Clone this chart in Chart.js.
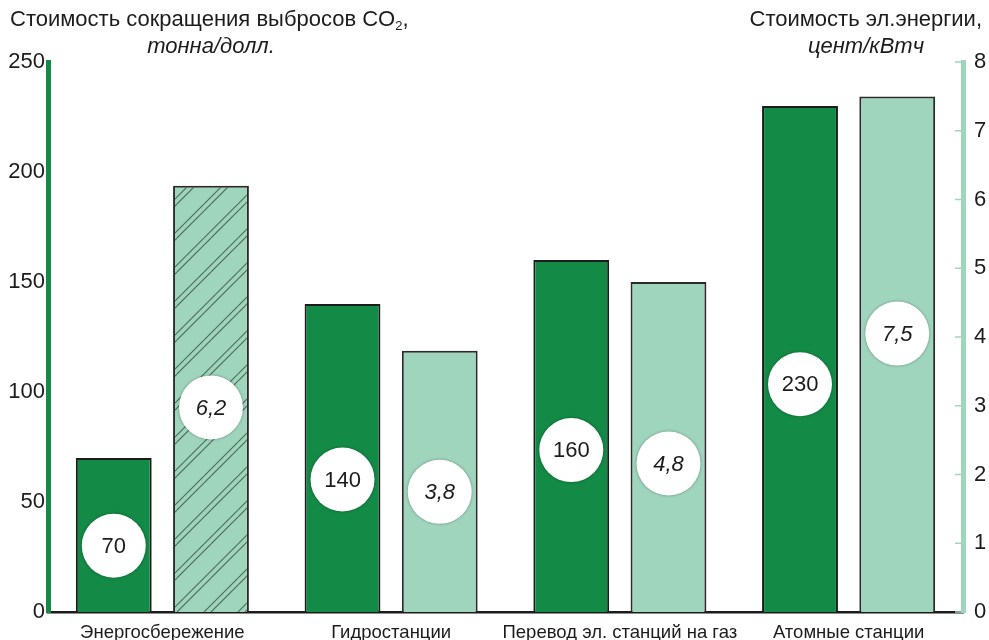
<!DOCTYPE html>
<html>
<head>
<meta charset="utf-8">
<script src="https://cdn.jsdelivr.net/npm/chart.js@4/dist/chart.umd.min.js"></script>
<style>
  html, body { margin: 0; padding: 0; background: #ffffff; }
  #wrap { width: 989px; height: 640px; }
</style>
</head>
<body>
<div id="wrap"><canvas id="c" width="989" height="640"></canvas></div>
<script>
// Options for cutting CO2 emissions
const categories = ['Энергосбережение', 'Гидростанции', 'Перевод эл. станций на газ', 'Атомные станции'];
// Cost of cutting emissions, left axis
const co2Cost = [70, 140, 160, 230];
// Electricity cost, right axis
const powerCost = [6.2, 3.8, 4.8, 7.5];
// Badge labels as printed
const co2Labels = ['70', '140', '160', '230'];
const powerLabels = ['6,2', '3,8', '4,8', '7,5'];

const FONT = '"Liberation Sans", Arial, sans-serif';
const DARK = '#138a46';
const LIGHT = '#9fd5bd';
const INK = '#1c1c1c';

// Diagonal double-line hatch for the first light bar
function makeHatch() {
  const s = 34;
  const c = document.createElement('canvas');
  c.width = s; c.height = s;
  const g = c.getContext('2d');
  g.fillStyle = LIGHT;
  g.fillRect(0, 0, s, s);
  g.strokeStyle = 'rgba(45,70,55,0.75)';
  g.lineWidth = 1.1;
  for (let k = -1; k <= 1; k++) {
    for (const d of [0, 7]) {
      g.beginPath();
      g.moveTo(k * s + d, s);
      g.lineTo(k * s + d + s, 0);
      g.stroke();
    }
  }
  return document.getElementById('c').getContext('2d').createPattern(c, 'repeat');
}
const hatch = makeHatch();

// Where each badge sits, as a share of its bar's height
const badgeLevel = [[0.43, 0.43, 0.46, 0.45], [0.48, 0.46, 0.45, 0.54]];

const decorPlugin = {
  id: 'decor',
  afterDatasetsDraw(chart) {
    const ctx = chart.ctx;
    ctx.save();
    // badges
    chart.data.datasets.forEach((ds, di) => {
      const meta = chart.getDatasetMeta(di);
      const labels = di === 0 ? co2Labels : powerLabels;
      meta.data.forEach((bar, i) => {
        const y = bar.base + (bar.y - bar.base) * badgeLevel[di][i];
        ctx.save();
        ctx.shadowColor = 'rgba(0,0,0,0.35)';
        ctx.shadowBlur = 3;
        ctx.beginPath();
        ctx.arc(bar.x, y, 32, 0, Math.PI * 2);
        ctx.fillStyle = '#ffffff';
        ctx.fill();
        ctx.restore();
        ctx.fillStyle = INK;
        ctx.font = (di === 1 ? 'italic ' : '') + '22px ' + FONT;
        ctx.textAlign = 'center';
        ctx.textBaseline = 'middle';
        ctx.fillText(labels[i], bar.x, y + 1);
      });
    });
    // small inward ticks on the right axis
    const r = chart.scales.yR;
    ctx.strokeStyle = LIGHT;
    ctx.lineWidth = 1.5;
    r.ticks.forEach(t => {
      const py = r.getPixelForValue(t.value);
      ctx.beginPath();
      ctx.moveTo(r.left - 8, py);
      ctx.lineTo(r.left, py);
      ctx.stroke();
    });
    ctx.restore();
  },
  afterDraw(chart) {
    const ctx = chart.ctx;
    ctx.save();
    ctx.fillStyle = INK;
    ctx.textBaseline = 'alphabetic';
    // left title
    ctx.font = '22px ' + FONT;
    ctx.textAlign = 'left';
    const t1 = 'Стоимость сокращения выбросов CO';
    ctx.fillText(t1, 10, 26);
    let x = 10 + ctx.measureText(t1).width;
    ctx.font = '13px ' + FONT;
    ctx.fillText('2', x, 30);
    x += ctx.measureText('2').width;
    ctx.font = '22px ' + FONT;
    ctx.fillText(',', x, 26);
    ctx.font = 'italic 22px ' + FONT;
    ctx.textAlign = 'center';
    ctx.fillText('тонна/долл.', 211, 53);
    // right title
    ctx.font = '22px ' + FONT;
    ctx.textAlign = 'right';
    ctx.fillText('Стоимость эл.энергии,', 982, 26);
    ctx.font = 'italic 22px ' + FONT;
    ctx.textAlign = 'center';
    ctx.fillText('цент/кВтч', 866, 53);
    ctx.restore();
  }
};

new Chart(document.getElementById('c'), {
  type: 'bar',
  data: {
    labels: categories,
    datasets: [
      {
        data: co2Cost,
        yAxisID: 'yL',
        backgroundColor: DARK,
        borderColor: INK,
        borderWidth: 2,
        borderSkipped: 'bottom',
        categoryPercentage: 0.85,
        barPercentage: 0.78
      },
      {
        data: powerCost,
        yAxisID: 'yR',
        backgroundColor: [hatch, LIGHT, LIGHT, LIGHT],
        borderColor: '#2a2a2a',
        borderWidth: 2,
        borderSkipped: 'bottom',
        categoryPercentage: 0.85,
        barPercentage: 0.78
      }
    ]
  },
  options: {
    responsive: false,
    animation: false,
    devicePixelRatio: 1,
    layout: { padding: { top: 62, left: 0, right: 0, bottom: 0 } },
    plugins: { legend: { display: false }, tooltip: { enabled: false } },
    scales: {
      x: {
        grid: { display: false, drawTicks: false },
        border: { display: true, color: INK, width: 2.5 },
        ticks: { color: INK, font: { family: FONT, size: 18.5 }, padding: 10, maxRotation: 0, autoSkip: false },
        afterFit(s) { s.height = 28; }
      },
      yL: {
        position: 'left',
        min: 0, max: 250,
        grid: { display: false, drawTicks: false },
        border: { display: true, color: DARK, width: 5 },
        ticks: { stepSize: 50, color: INK, font: { family: FONT, size: 22 }, padding: 3 },
        afterFit(s) { s.width = 48; }
      },
      yR: {
        position: 'right',
        min: 0, max: 8,
        grid: { display: false, drawTicks: false },
        border: { display: true, color: LIGHT, width: 5 },
        ticks: { stepSize: 1, color: INK, font: { family: FONT, size: 22 }, padding: 11 },
        afterFit(s) { s.width = 26; }
      }
    }
  },
  plugins: [decorPlugin]
});
</script>
</body>
</html>
